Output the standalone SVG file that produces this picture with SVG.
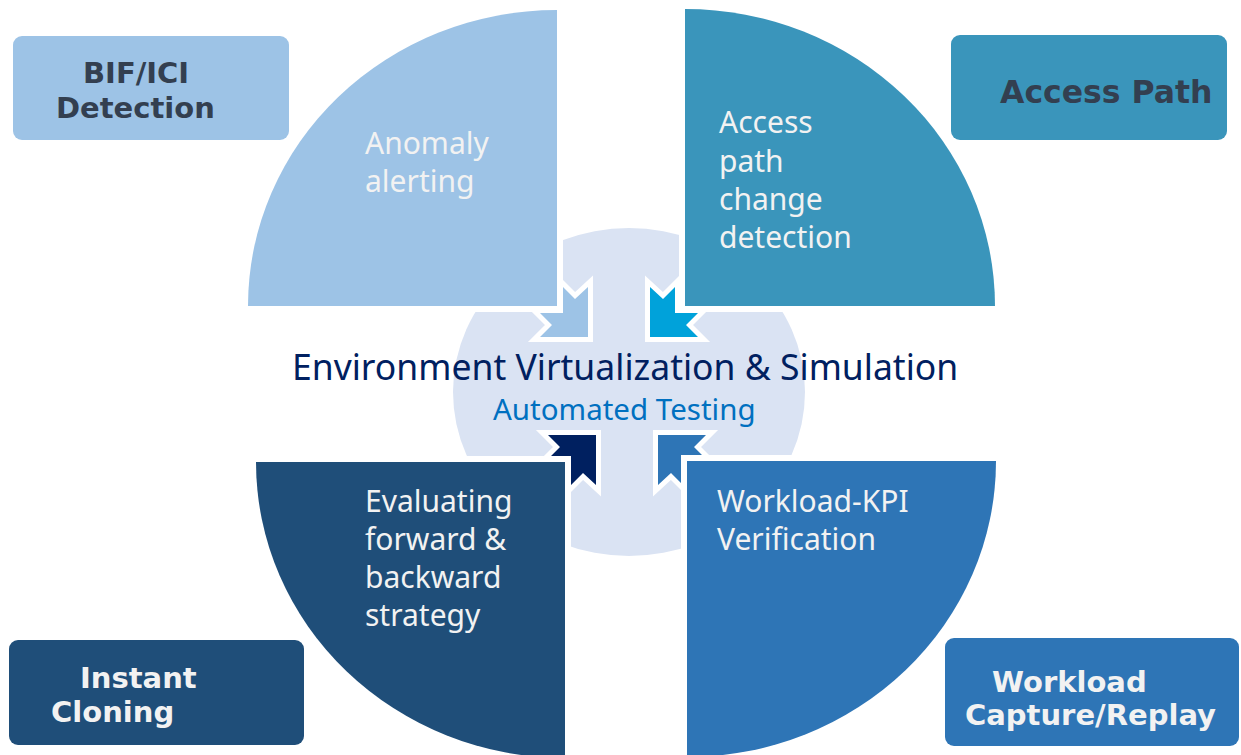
<svg xmlns="http://www.w3.org/2000/svg" xmlns:xlink="http://www.w3.org/1999/xlink" width="1241" height="755" viewBox="0 0 1241 755">
<style>
.q{stroke:#fff;stroke-width:12;paint-order:stroke;stroke-linejoin:miter}
.qt{font-family:"Noto Sans","Liberation Sans",sans-serif;font-size:30px;fill:#F2F2F2}
.box text{font-family:"DejaVu Sans","Liberation Sans",sans-serif;font-weight:bold}
.dk{fill:#333F50}
.lt{fill:#F2F2F2}
.arr{stroke:#fff;stroke-width:10;paint-order:stroke;stroke-linejoin:miter}
</style>
<defs>
<polygon id="arrow" points="0,0 -48,0 -36,-12 -48,-24 -25,-24 -25,-50 -13,-38 0,-50"/>
</defs>
<rect width="1241" height="755" fill="#fff"/>
<g id="center">
<ellipse cx="629" cy="392" rx="176" ry="164" fill="#DAE3F3"/>
</g>
<g id="connectors">
<use xlink:href="#arrow" href="#arrow" class="arr" fill="#9DC3E6" transform="translate(588,337)"/>
<use xlink:href="#arrow" href="#arrow" class="arr" fill="#00A2DA" transform="translate(650,337) scale(-1,1)"/>
<use xlink:href="#arrow" href="#arrow" class="arr" fill="#002060" transform="translate(596,435) scale(1,-1)"/>
<use xlink:href="#arrow" href="#arrow" class="arr" fill="#2E75B6" transform="translate(658,435) scale(-1,-1)"/>
</g>
<g id="quad-anomaly">
<path class="q" fill="#9DC3E6" d="M557,306 L248,306 A309,296 0 0 1 557,10 Z"/>
<text class="qt" x="365" y="154">Anomaly</text>
<text class="qt" x="365" y="192">alerting</text>
</g>
<g id="quad-access">
<path class="q" fill="#3A95BB" d="M685,306 L685,9 A310,297 0 0 1 995,306 Z"/>
<text class="qt" x="719" y="133">Access</text>
<text class="qt" x="719" y="172">path</text>
<text class="qt" x="719" y="210">change</text>
<text class="qt" x="719" y="248">detection</text>
</g>
<g id="quad-evaluating">
<path class="q" fill="#1F4E79" d="M565,462 L565,758 A309,296 0 0 1 256,462 Z"/>
<text class="qt" x="365" y="512">Evaluating</text>
<text class="qt" x="365" y="550">forward &amp;</text>
<text class="qt" x="365" y="588">backward</text>
<text class="qt" x="365" y="626">strategy</text>
</g>
<g id="quad-workload">
<path class="q" fill="#2E75B6" d="M687,461 L996,461 A309,296 0 0 1 687,757 Z"/>
<text class="qt" x="717" y="512">Workload-KPI</text>
<text class="qt" x="717" y="550">Verification</text>
</g>
<g id="title">
<text x="292" y="380" font-family="Noto Sans, Liberation Sans, sans-serif" font-size="35.5" fill="#002060">Environment Virtualization &amp; Simulation</text>
<text x="493" y="420" font-family="Noto Sans, Liberation Sans, sans-serif" font-size="29.5" fill="#0070C0">Automated Testing</text>
</g>
<g id="box-bif" class="box">
<rect x="13" y="36" width="276" height="104" rx="9" fill="#9DC3E6"/>
<text class="dk" x="83" y="83" font-size="29">BIF/ICI</text>
<text class="dk" x="56" y="118" font-size="29">Detection</text>
</g>
<g id="box-access" class="box">
<rect x="951" y="35" width="276" height="105" rx="9" fill="#3A95BB"/>
<text class="dk" x="1000" y="103" font-size="31.5">Access Path</text>
</g>
<g id="box-cloning" class="box">
<rect x="9" y="640" width="295" height="105" rx="9" fill="#1F4E79"/>
<text class="lt" x="80" y="688" font-size="29">Instant</text>
<text class="lt" x="51" y="722" font-size="29">Cloning</text>
</g>
<g id="box-workload" class="box">
<rect x="945" y="638" width="294" height="108" rx="9" fill="#2E75B6"/>
<text class="lt" x="992" y="692" font-size="29">Workload</text>
<text class="lt" x="965" y="725" font-size="29">Capture/Replay</text>
</g>
</svg>
